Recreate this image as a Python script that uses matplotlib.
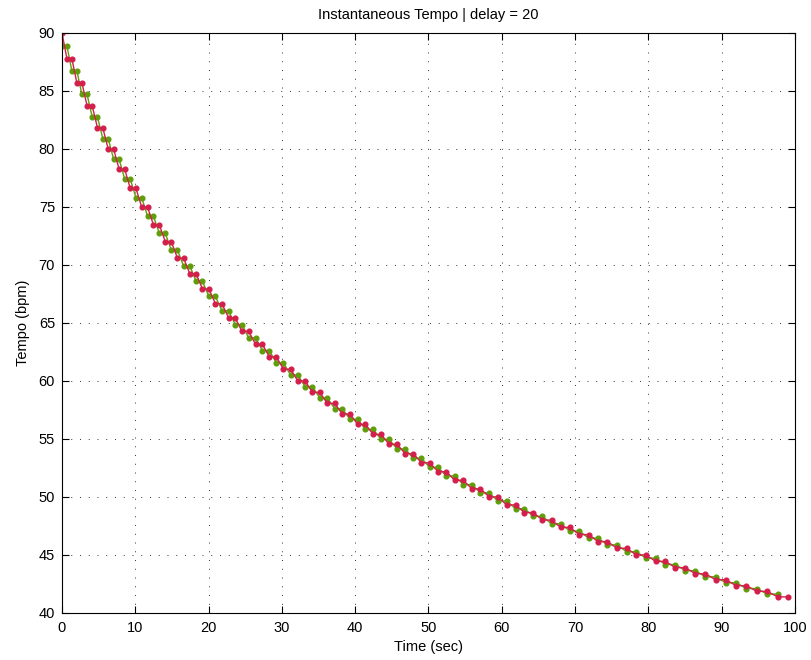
import numpy as np
import matplotlib
matplotlib.use('Agg')
import matplotlib.pyplot as plt

# tempo (bpm) of each beat, read from the staircase; first value is the start point
tempo = [90.00, 88.89, 87.80, 86.75, 85.71, 84.71, 83.72, 82.76, 81.82, 80.90,
         80.00, 79.12, 78.26, 77.42, 76.60, 75.79, 75.00, 74.23, 73.47, 72.73,
         72.01, 71.29, 70.59, 69.91, 69.24, 68.58, 67.93, 67.30, 66.67, 66.06,
         65.46, 64.87, 64.29, 63.72, 63.17, 62.62, 62.08, 61.55, 61.02, 60.51,
         60.01, 59.51, 59.02, 58.54, 58.07, 57.61, 57.15, 56.70, 56.26, 55.82,
         55.39, 54.97, 54.55, 54.14, 53.74, 53.34, 52.95, 52.56, 52.18, 51.81,
         51.44, 51.07, 50.71, 50.36, 50.01, 49.66, 49.32, 48.99, 48.66, 48.33,
         48.01, 47.69, 47.38, 47.07, 46.76, 46.46, 46.16, 45.87, 45.58, 45.29,
         45.01, 44.73, 44.45, 44.18, 43.91, 43.65, 43.38, 43.12, 42.87, 42.61,
         42.36, 42.11, 41.87, 41.63, 41.39]

x_ticks = list(range(0, 101, 10))
y_ticks = list(range(40, 91, 5))

red = '#d41e4c'
green = '#5f9e0a'

plt.rcParams['font.family'] = ['Liberation Sans', 'DejaVu Sans']
plt.rcParams['font.size'] = 10.5

tempo = np.array(tempo)
# beat onsets: each beat lasts one period of the previous tempo
onsets = np.concatenate([[0.0], np.cumsum(60.0 / tempo[:-1])])

series = {green: ([], []), red: ([onsets[0]], [tempo[0]])}
for k in range(1, len(tempo)):
    c = red if k % 2 == 0 else green
    series[c][0].extend([onsets[k - 1], onsets[k]])
    series[c][1].extend([tempo[k], tempo[k]])

fig = plt.figure(figsize=(8.12, 6.6), dpi=100)
ax = fig.add_axes([62 / 812, 1 - 613 / 660, (795 - 62) / 812, (613 - 33) / 660])

for c in (green, red):
    xs, ys = series[c]
    ax.plot(xs, ys, '-', color=c, lw=1.0, marker='o', ms=3.4, mec=c, mfc=c)

ax.set_xlim(0, 100)
ax.set_ylim(40, 90)
ax.set_xticks(x_ticks)
ax.set_yticks(y_ticks)
ax.grid(True, color='#333333', linestyle=(0, (1, 8)), linewidth=0.7)
ax.tick_params(direction='in', top=True, right=True, length=5, width=0.8)
ax.tick_params(axis='x', pad=6)
ax.tick_params(axis='y', pad=5)
for s in ax.spines.values():
    s.set_linewidth(0.8)

ax.set_title('Instantaneous Tempo | delay = 20', fontsize=10.5, pad=10)
ax.set_xlabel('Time (sec)', labelpad=3)
ax.set_ylabel('Tempo (bpm)', labelpad=6)

fig.savefig('out.png', dpi=100)
